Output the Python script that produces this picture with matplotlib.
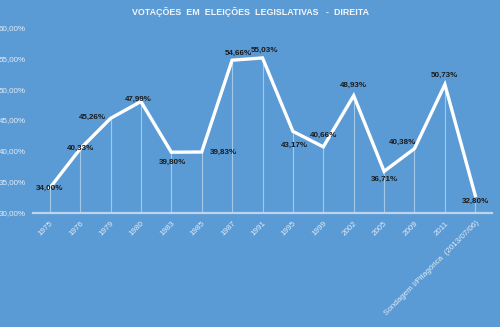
import matplotlib
matplotlib.use("Agg")
import matplotlib.pyplot as plt
from matplotlib.ticker import FuncFormatter

# eleições legislativas - votação da direita
anos = ["1975", "1976", "1979", "1980", "1983", "1985", "1987", "1991",
        "1995", "1999", "2002", "2005", "2009", "2011",
        "Sondagem I/Pitagórica  (2013/07/06)"]
votos = [34.00, 40.33, 45.26, 47.99, 39.80, 39.83, 54.66, 55.03,
         43.17, 40.66, 48.93, 36.71, 40.38, 50.73, 32.80]
rotulos = ["34,00%", "40,33%", "45,26%", "47,99%", "39,80%", "39,83%", "54,66%", "55,03%",
           "43,17%", "40,66%", "48,93%", "36,71%", "40,38%", "50,73%", "32,80%"]
# posição do rótulo em relação ao ponto (dx em categorias, dy em pontos percentuais)
desloc = [(0, -0.1), (0, 0.1), (-0.6, 0.2), (-0.1, 0.4), (0.05, -1.6), (0.7, 0.0),
          (0.2, 1.1), (0.05, 1.3), (0.05, -2.2), (0.0, 1.8), (0.0, 1.6), (0.0, -1.3),
          (-0.4, 1.0), (0.0, 1.5), (0.0, -1.0)]

bg = "#5b9bd5"
plt.rcParams['font.family'] = ['Liberation Sans', 'DejaVu Sans']

fig = plt.figure(figsize=(5, 3.27), dpi=100, facecolor=bg)
ax = fig.add_axes([0.066, 0.349, 0.918, 0.568])
ax.set_facecolor(bg)

x = list(range(len(anos)))
ax.vlines(x, 30, votos, color="white", lw=0.8, alpha=0.45, zorder=1)
ax.plot(x, votos, color="white", lw=2.4, solid_joinstyle="miter", zorder=2)

for i, (v, t) in enumerate(zip(votos, rotulos)):
    dx, dy = desloc[i]
    ax.text(i + dx, v + dy, t, ha="center", va="center", fontsize=5.8,
            fontweight="bold", color="#1a1a1a", zorder=3)

ax.set_xlim(-0.55, len(anos) - 0.45)
ax.set_ylim(30, 60)
ax.set_yticks([30, 35, 40, 45, 50, 55, 60])
ax.yaxis.set_major_formatter(FuncFormatter(lambda v, p: f"{v:.2f}%".replace(".", ",")))
ax.set_xticks(x)
ax.set_xticklabels(anos, rotation=45, ha="right", va="top", rotation_mode="anchor")

ax.tick_params(axis="both", length=0, labelsize=5.8, colors="#e4edf7")
ax.tick_params(axis="y", pad=5)
ax.tick_params(axis="x", pad=5)
for s in ["top", "right", "left"]:
    ax.spines[s].set_visible(False)
ax.spines["bottom"].set_color("#bcd3ee")
ax.spines["bottom"].set_linewidth(1.6)

fig.text(0.5, 0.963, "VOTAÇÕES  EM  ELEIÇÕES  LEGISLATIVAS   -  DIREITA",
         ha="center", va="center", fontsize=6.4, fontweight="bold", color="#f2f6fb")

fig.savefig("out.png", dpi=100, facecolor=bg)
